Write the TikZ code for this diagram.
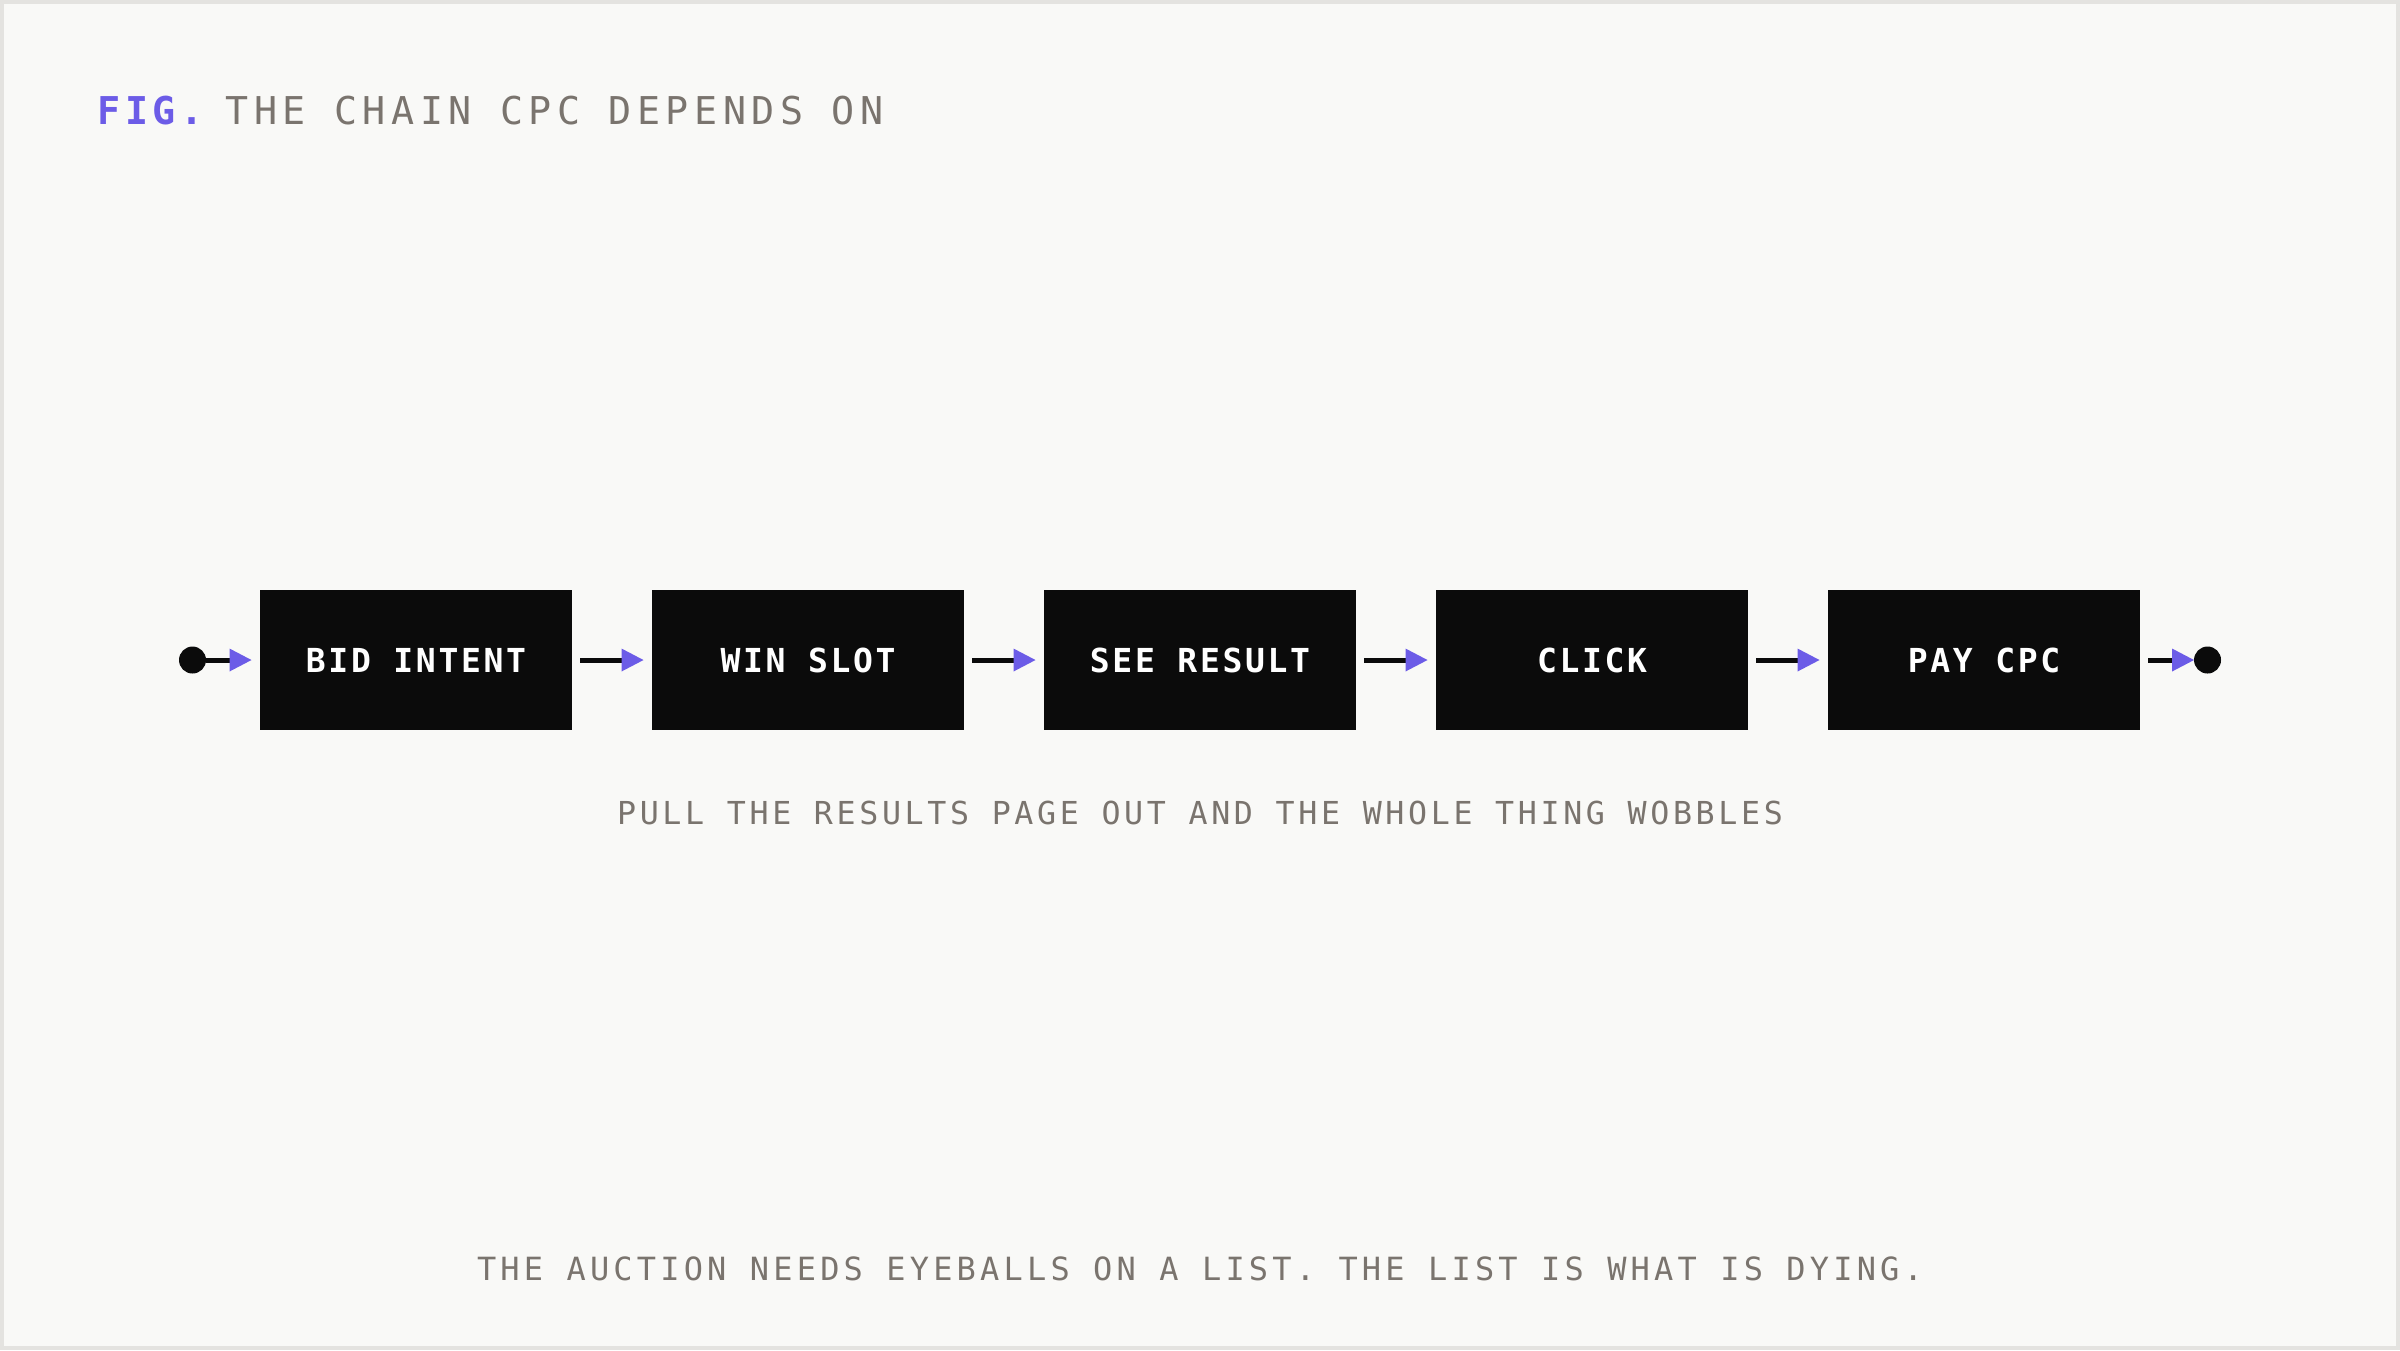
\documentclass[tikz,border=0pt]{standalone}
\usepackage{fontspec}
\usepackage{tikz}
\usetikzlibrary{arrows.meta, positioning}

\definecolor{paper}{HTML}{F9F9F7}
\definecolor{frame}{HTML}{E4E3E0}
\definecolor{ink}{HTML}{0B0B0B}
\definecolor{muted}{HTML}{7A746E}
\definecolor{accent}{HTML}{6C5CE7}

\newfontfamily\titlefont[LetterSpace=14.3]{DejaVu Sans Mono}
\newfontfamily\figfont[LetterSpace=11.5]{DejaVu Sans Mono}
\newfontfamily\boxfont[LetterSpace=8]{DejaVu Sans Mono}
\newfontfamily\notefont[LetterSpace=11.5]{DejaVu Sans Mono}
\newfontfamily\footfont[LetterSpace=13.1]{DejaVu Sans Mono}

\begin{document}
\begin{tikzpicture}[
  node distance=0.8cm,
  block/.style={rectangle, fill=ink, text=white, minimum width=3.12cm,
                minimum height=1.40cm, inner sep=0pt, outer sep=0pt,
                font=\boxfont\bfseries\fontsize{9.4pt}{11pt}\selectfont},
  dot/.style={circle, fill=ink, minimum size=0.27cm, inner sep=0pt, outer sep=0pt},
  arrow/.style={-{Triangle[length=0.22cm, width=0.23cm, color=accent, line width=0pt]},
                line width=0.05cm, draw=ink, shorten >=0.085cm},
  note/.style={text=muted, inner sep=0pt, anchor=base},
]
  % paper and frame
  \fill[frame] (0,0) rectangle (24,-13.5);
  \fill[paper] (0.035,-0.035) rectangle (23.96,-13.46);

  % heading
  \node[note, anchor=base west, text=accent,
        font=\figfont\bfseries\fontsize{10.9pt}{13pt}\selectfont] (fig) at (0.97,-1.243) {FIG.};
  \node[note, anchor=base west,
        font=\titlefont\fontsize{10.9pt}{13pt}\selectfont] (title) at (2.25,-1.243) {THE CHAIN CPC DEPENDS ON};

  % the chain
  \node[block] (bid) at (4.16,-6.60) {BID INTENT};
  \node[block, right=of bid]   (win)   {WIN SLOT};
  \node[block, right=of win]   (see)   {SEE RESULT};
  \node[block, right=of see]   (click) {CLICK};
  \node[block, right=of click] (pay)   {PAY CPC};

  \node[dot, left=0.54cm of bid]  (start) {};
  \node[dot, right=0.54cm of pay] (stop)  {};

  \draw[arrow] (start) -- (bid);
  \draw[arrow, shorten <=0.08cm] (bid)   -- (win);
  \draw[arrow, shorten <=0.08cm] (win)   -- (see);
  \draw[arrow, shorten <=0.08cm] (see)   -- (click);
  \draw[arrow, shorten <=0.08cm] (click) -- (pay);
  \draw[arrow, shorten <=0.08cm, shorten >=0pt] (pay) -- (stop);

  % captions
  \node[note, font=\notefont\fontsize{9pt}{11pt}\selectfont] (wobble) at (12,-8.24)
    {PULL THE RESULTS PAGE OUT AND THE WHOLE THING WOBBLES};
  \node[note, font=\footfont\fontsize{9.1pt}{11pt}\selectfont] (dying) at (12,-12.80)
    {THE AUCTION NEEDS EYEBALLS ON A LIST. THE LIST IS WHAT IS DYING.};
\end{tikzpicture}
\end{document}
